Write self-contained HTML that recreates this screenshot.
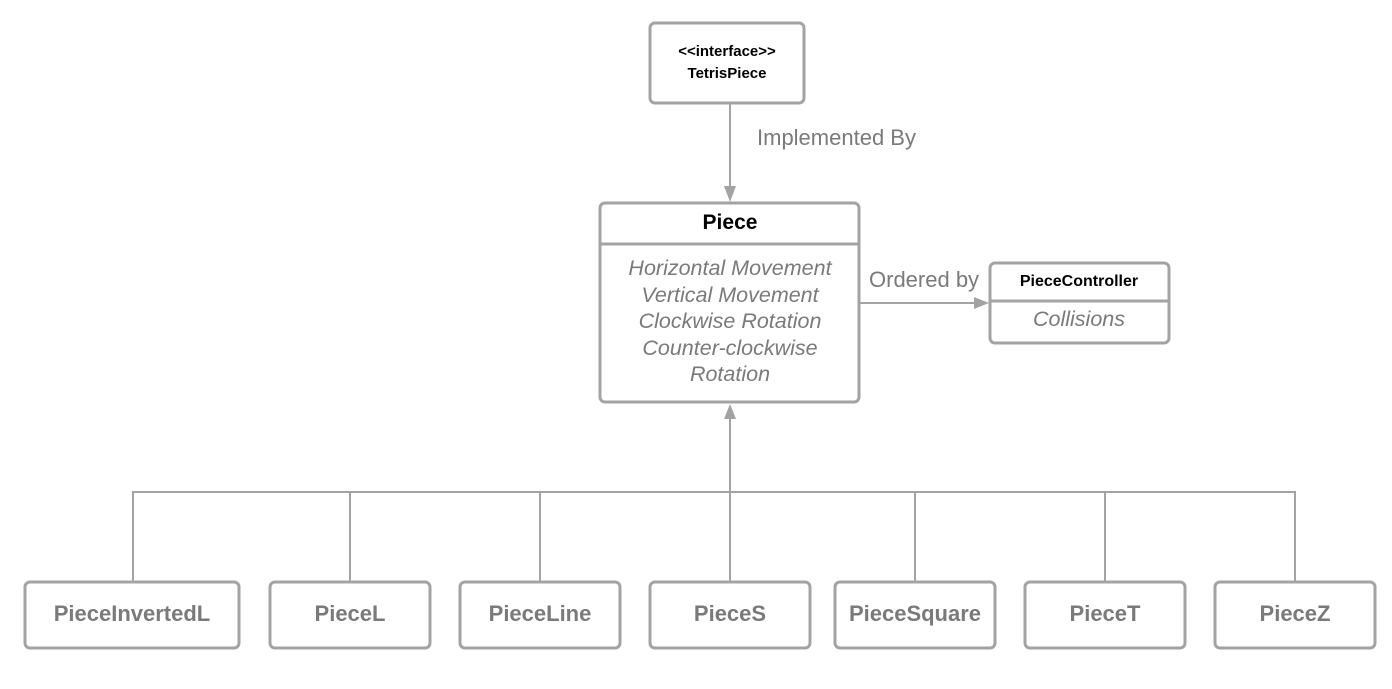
<!DOCTYPE html>
<html><head><style>
body{margin:0;background:#fff;}
svg{display:block;font-family:"Liberation Sans",Arial,sans-serif;}
</style></head><body>
<svg width="1392" height="689" viewBox="0 0 1392 689">
<g fill="none" stroke="#a3a3a3" stroke-width="2">
<line x1="730" y1="103" x2="730" y2="190"/>
<line x1="860" y1="303" x2="977" y2="303"/>
<line x1="730" y1="492" x2="730" y2="418"/>
<polyline points="133,582 133,492 1295,492 1295,582"/>
<line x1="350" y1="492" x2="350" y2="582"/>
<line x1="540" y1="492" x2="540" y2="582"/>
<line x1="730" y1="492" x2="730" y2="582"/>
<line x1="915" y1="492" x2="915" y2="582"/>
<line x1="1105" y1="492" x2="1105" y2="582"/>
</g>
<g fill="#a3a3a3">
<polygon points="724,186 736,186 730,202"/>
<polygon points="974,297 974,309 989,303"/>
<polygon points="724,419 736,419 730,404"/>
</g>
<g fill="#fff" stroke="#a3a3a3" stroke-width="3">
<rect x="650" y="23" width="154" height="80" rx="5"/>
<rect x="600" y="203" width="259" height="199" rx="5"/>
<rect x="990" y="263" width="179" height="80" rx="5"/>
<rect x="25" y="582" width="214" height="66" rx="5"/>
<rect x="270" y="582" width="160" height="66" rx="5"/>
<rect x="460" y="582" width="160" height="66" rx="5"/>
<rect x="650" y="582" width="160" height="66" rx="5"/>
<rect x="835" y="582" width="160" height="66" rx="5"/>
<rect x="1025" y="582" width="160" height="66" rx="5"/>
<rect x="1215" y="582" width="160" height="66" rx="5"/>
</g>
<g stroke="#a3a3a3" stroke-width="3">
<line x1="600" y1="244" x2="859" y2="244"/>
<line x1="990" y1="301" x2="1169" y2="301"/>
</g>
<g text-anchor="middle">
<text x="727" y="56" font-size="15" font-weight="bold">&lt;&lt;interface&gt;&gt;</text>
<text x="727" y="78" font-size="15" font-weight="bold">TetrisPiece</text>
<text x="730" y="229" font-size="21" font-weight="bold">Piece</text>
<text x="1079" y="286" font-size="16" font-weight="bold">PieceController</text>
<g fill="#7a7a7a" font-style="italic" font-size="21.5">
<text x="730" y="275">Horizontal Movement</text>
<text x="730" y="302">Vertical Movement</text>
<text x="730" y="328">Clockwise Rotation</text>
<text x="730" y="355">Counter-clockwise</text>
<text x="730" y="381">Rotation</text>
<text x="1079" y="326">Collisions</text>
</g>
<g fill="#7a7a7a" font-size="22" font-weight="bold">
<text x="132" y="621">PieceInvertedL</text>
<text x="350" y="621">PieceL</text>
<text x="540" y="621">PieceLine</text>
<text x="730" y="621">PieceS</text>
<text x="915" y="621">PieceSquare</text>
<text x="1105" y="621">PieceT</text>
<text x="1295" y="621">PieceZ</text>
</g>
</g>
<g fill="#7a7a7a" font-size="22">
<text x="757" y="145">Implemented By</text>
<text x="869" y="287">Ordered by</text>
</g>
</svg>
</body></html>
